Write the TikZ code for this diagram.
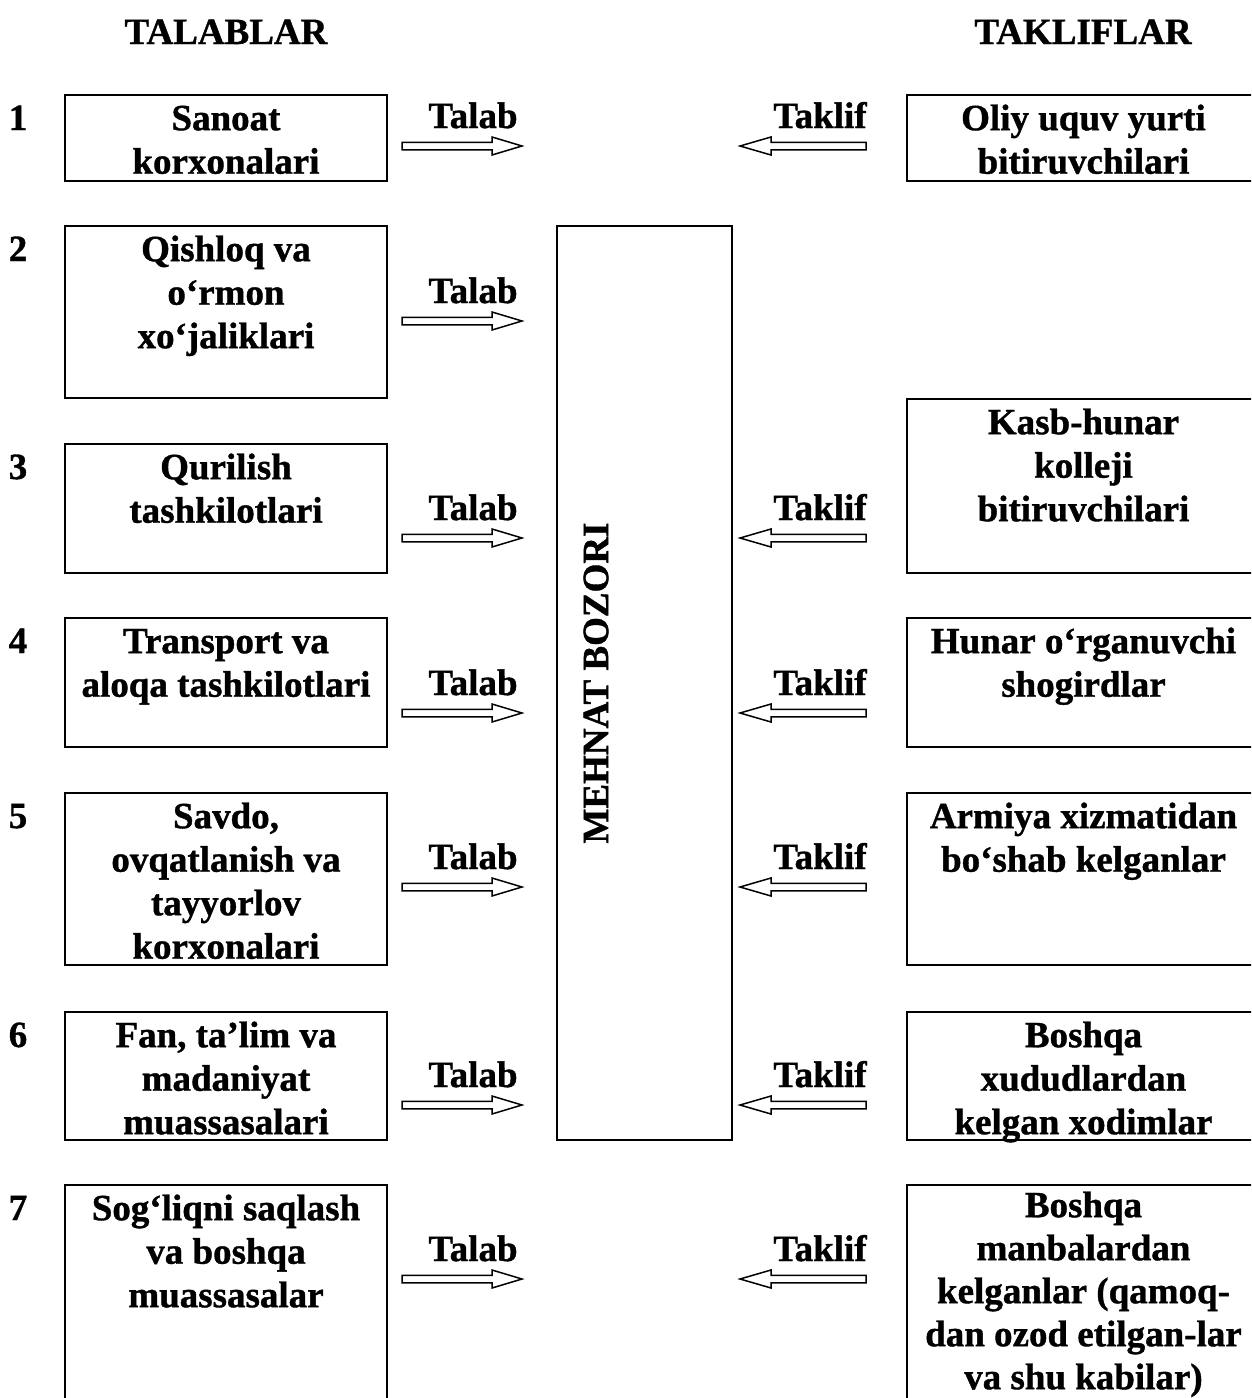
\documentclass[tikz,border=0pt]{standalone}
\usepackage{fontspec}
\setmainfont{Liberation Serif}[BoldFeatures={FakeBold=1}]
\begin{document}
\begin{tikzpicture}[x=1pt,y=-1pt,
  box/.style={draw,line width=2.6pt,outer sep=0pt,inner sep=0pt,anchor=north west},
  btxt/.style={anchor=north,inner sep=0pt,align=center,font=\fontsize{37}{43.5}\selectfont\bfseries,yshift=-5pt},
  lbl/.style={anchor=base,inner sep=0pt,font=\fontsize{37}{43.5}\selectfont\bfseries},
  blk/.style={draw,line width=1.5pt,fill=white,line join=miter}]
\useasboundingbox (0,0) rectangle (1251,1398);
\clip (0,0) rectangle (1251,1398);

% headers
\node[lbl] (hL) at (226,44) {TALABLAR};
\node[lbl] (hR) at (1083,44) {TAKLIFLAR};

% left boxes
\node[box,minimum width=322pt,minimum height=86pt]  (L1) at (65,95) {};
\node[box,minimum width=322pt,minimum height=172pt] (L2) at (65,226) {};
\node[box,minimum width=322pt,minimum height=129pt] (L3) at (65,444) {};
\node[box,minimum width=322pt,minimum height=129pt] (L4) at (65,618) {};
\node[box,minimum width=322pt,minimum height=172pt] (L5) at (65,793) {};
\node[box,minimum width=322pt,minimum height=128pt] (L6) at (65,1012) {};
\node[box,minimum width=322pt,minimum height=240pt] (L7) at (65,1185) {};

% right boxes
\node[box,minimum width=353pt,minimum height=86pt]  (R1) at (907,95) {};
\node[box,minimum width=353pt,minimum height=174pt] (R2) at (907,399) {};
\node[box,minimum width=353pt,minimum height=129pt] (R3) at (907,618) {};
\node[box,minimum width=353pt,minimum height=172pt] (R4) at (907,793) {};
\node[box,minimum width=353pt,minimum height=128pt] (R5) at (907,1012) {};
\node[box,minimum width=353pt,minimum height=240pt] (R6) at (907,1185) {};

% centre
\node[box,minimum width=175pt,minimum height=914pt] (M) at (557,226) {};
\node[rotate=90,inner sep=0pt,font=\fontsize{37}{43}\selectfont\bfseries] (Mt) at (596,683) {MEHNAT BOZORI};

% texts
\node[btxt] (L1t) at (L1.north) {\rule{0pt}{30pt}Sanoat\\korxonalari};
\node[btxt] (L2t) at (L2.north) {\rule{0pt}{30pt}Qishloq va\\o‘rmon\\xo‘jaliklari};
\node[btxt] (L3t) at (L3.north) {\rule{0pt}{30pt}Qurilish\\tashkilotlari};
\node[btxt] (L4t) at (L4.north) {\rule{0pt}{30pt}Transport va\\aloqa tashkilotlari};
\node[btxt] (L5t) at (L5.north) {\rule{0pt}{30pt}Savdo,\\ovqatlanish va\\tayyorlov\\korxonalari};
\node[btxt] (L6t) at (L6.north) {\rule{0pt}{30pt}Fan, ta’lim va\\madaniyat\\muassasalari};
\node[btxt] (L7t) at (L7.north) {\rule{0pt}{30pt}Sog‘liqni saqlash\\va boshqa\\muassasalar};

\node[btxt] (R1t) at (R1.north) {\rule{0pt}{30pt}Oliy uquv yurti\\bitiruvchilari};
\node[btxt] (R2t) at (R2.north) {\rule{0pt}{30pt}Kasb-hunar\\kolleji\\bitiruvchilari};
\node[btxt] (R3t) at (R3.north) {\rule{0pt}{30pt}Hunar o‘rganuvchi\\shogirdlar};
\node[btxt] (R4t) at (R4.north) {\rule{0pt}{30pt}Armiya xizmatidan\\bo‘shab kelganlar};
\node[btxt] (R5t) at (R5.north) {\rule{0pt}{30pt}Boshqa\\xududlardan\\kelgan xodimlar};
\node[btxt,yshift=3pt,font=\fontsize{37}{43}\selectfont\bfseries] (R6t) at (R6.north) {\rule{0pt}{30pt}Boshqa\\manbalardan\\kelganlar (qamoq-\\dan ozod etilgan-lar\\va shu kabilar)};

% numbers
\foreach \n/\yy in {1/130,2/261,3/479,4/653,5/828,6/1047,7/1220}{
  \node[lbl] (num\n) at (18,\yy) {\n};
}

% Talab arrows
\foreach \n/\y in {1/146,2/321,3/538,4/713,5/887,6/1105,7/1279}{
  \draw[blk] (402,\y-3.75) -- (492,\y-3.75) -- (492,\y-9) -- (522,\y) -- (492,\y+9) -- (492,\y+3.75) -- (402,\y+3.75) -- cycle;
  \node[lbl] (tl\n) at (473,\y-18) {Talab};
}
% Taklif arrows
\foreach \n/\y in {1/146,3/538,4/713,5/887,6/1105,7/1279}{
  \draw[blk] (866,\y-3.75) -- (771,\y-3.75) -- (771,\y-9) -- (740,\y) -- (771,\y+9) -- (771,\y+3.75) -- (866,\y+3.75) -- cycle;
  \node[lbl] (tk\n) at (820,\y-18) {Taklif};
}
\end{tikzpicture}
\end{document}
